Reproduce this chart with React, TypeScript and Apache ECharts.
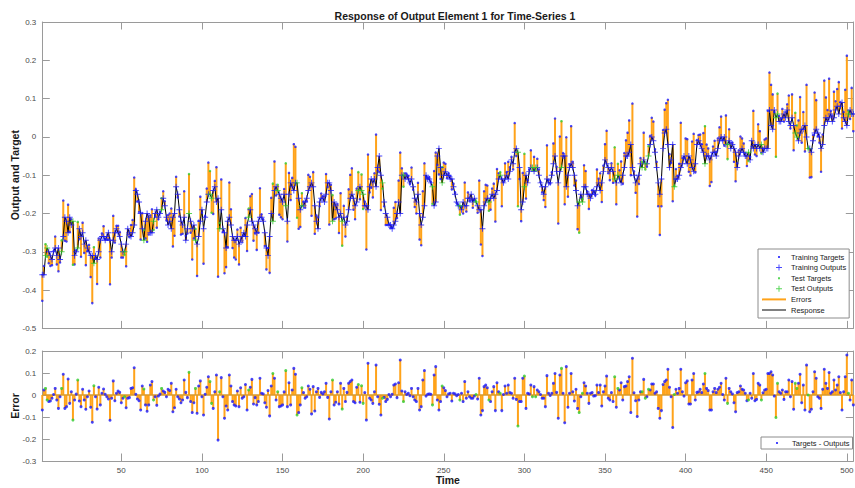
import React, { useEffect, useRef } from "react";
import * as echarts from "echarts";

const outputs: number[] = [
  -0.36,-0.36,-0.31,-0.29,-0.30,-0.31,-0.32,-0.30,-0.29,-0.31,
  -0.29,-0.32,-0.30,-0.26,-0.21,-0.22,-0.25,-0.21,-0.23,-0.22,
  -0.31,-0.30,-0.29,-0.24,-0.26,-0.25,-0.28,-0.27,-0.29,-0.30,
  -0.31,-0.31,-0.33,-0.31,-0.32,-0.30,-0.27,-0.26,-0.26,-0.27,
  -0.26,-0.25,-0.27,-0.30,-0.27,-0.25,-0.24,-0.25,-0.26,-0.28,
  -0.30,-0.30,-0.28,-0.24,-0.25,-0.26,-0.25,-0.23,-0.14,-0.15,
  -0.17,-0.20,-0.24,-0.27,-0.22,-0.20,-0.21,-0.25,-0.25,-0.22,
  -0.20,-0.19,-0.21,-0.20,-0.19,-0.16,-0.18,-0.21,-0.23,-0.22,
  -0.24,-0.21,-0.20,-0.13,-0.15,-0.19,-0.22,-0.23,-0.21,-0.27,
  -0.24,-0.20,-0.22,-0.24,-0.23,-0.27,-0.28,-0.26,-0.22,-0.19,
  -0.24,-0.21,-0.17,-0.15,-0.15,-0.16,-0.14,-0.13,-0.17,-0.16,
  -0.24,-0.19,-0.24,-0.25,-0.29,-0.22,-0.21,-0.23,-0.26,-0.27,
  -0.27,-0.26,-0.28,-0.27,-0.26,-0.25,-0.26,-0.23,-0.21,-0.19,
  -0.22,-0.23,-0.24,-0.25,-0.22,-0.21,-0.21,-0.22,-0.25,-0.29,
  -0.31,-0.26,-0.20,-0.22,-0.14,-0.13,-0.14,-0.15,-0.16,-0.17,
  -0.15,-0.18,-0.22,-0.15,-0.12,-0.13,-0.14,-0.12,-0.12,-0.16,
  -0.19,-0.18,-0.18,-0.17,-0.16,-0.14,-0.13,-0.12,-0.13,-0.18,
  -0.22,-0.24,-0.17,-0.16,-0.16,-0.17,-0.15,-0.12,-0.12,-0.14,
  -0.22,-0.17,-0.18,-0.19,-0.21,-0.20,-0.22,-0.21,-0.23,-0.22,
  -0.19,-0.16,-0.15,-0.16,-0.18,-0.17,-0.14,-0.13,-0.14,-0.15,
  -0.18,-0.18,-0.19,-0.13,-0.11,-0.12,-0.11,-0.13,-0.08,-0.05,
  -0.10,-0.12,-0.17,-0.20,-0.21,-0.23,-0.23,-0.24,-0.23,-0.22,
  -0.20,-0.17,-0.20,-0.10,-0.10,-0.11,-0.10,-0.11,-0.12,-0.11,
  -0.13,-0.16,-0.17,-0.15,-0.20,-0.23,-0.21,-0.18,-0.10,-0.11,
  -0.11,-0.12,-0.13,-0.18,-0.17,-0.05,-0.03,-0.08,-0.12,-0.10,
  -0.09,-0.10,-0.10,-0.11,-0.11,-0.13,-0.15,-0.17,-0.18,-0.18,
  -0.19,-0.17,-0.18,-0.18,-0.16,-0.16,-0.15,-0.17,-0.16,-0.17,
  -0.18,-0.19,-0.19,-0.24,-0.18,-0.17,-0.16,-0.17,-0.16,-0.15,
  -0.16,-0.15,-0.14,-0.11,-0.10,-0.11,-0.12,-0.11,-0.10,-0.11,
  -0.09,-0.06,-0.07,-0.04,-0.03,-0.04,-0.08,-0.19,-0.17,-0.13,
  -0.10,-0.12,-0.09,-0.08,-0.08,-0.09,-0.08,-0.08,-0.10,-0.12,
  -0.13,-0.15,-0.13,-0.11,-0.12,-0.12,-0.10,-0.07,-0.05,-0.09,
  -0.12,-0.09,-0.08,-0.05,-0.05,-0.13,-0.10,-0.08,-0.07,-0.08,
  -0.10,-0.14,-0.18,-0.17,-0.15,-0.17,-0.13,-0.13,-0.15,-0.15,
  -0.16,-0.15,-0.14,-0.15,-0.13,-0.12,-0.14,-0.12,-0.09,-0.06,
  -0.07,-0.08,-0.09,-0.08,-0.09,-0.11,-0.12,-0.10,-0.11,-0.12,
  -0.10,-0.08,-0.05,-0.05,-0.04,-0.02,-0.08,-0.10,-0.12,-0.11,
  -0.10,-0.07,-0.08,-0.06,-0.07,-0.07,-0.05,-0.02,0.00,-0.01,
  -0.04,-0.08,-0.12,-0.15,-0.11,-0.03,0.01,0.02,-0.02,-0.08,
  -0.06,-0.02,-0.13,-0.11,-0.11,-0.10,-0.08,-0.07,-0.05,-0.06,
  -0.07,-0.05,-0.06,-0.08,-0.09,-0.07,-0.02,-0.01,-0.02,-0.03,
  -0.04,-0.07,-0.05,-0.05,-0.06,-0.05,-0.04,-0.04,-0.05,-0.03,
  -0.01,0.00,-0.01,0.00,-0.02,-0.02,-0.01,-0.03,-0.02,-0.03,
  -0.04,-0.08,-0.05,-0.04,-0.03,-0.04,-0.05,-0.05,-0.04,-0.06,
  -0.01,-0.03,-0.02,-0.03,-0.02,-0.03,-0.02,-0.04,-0.03,-0.03,
  -0.03,0.07,0.03,0.02,0.07,0.05,0.06,0.04,0.04,0.05,
  0.06,0.05,0.07,0.04,0.03,0.05,0.03,0.01,0.00,-0.01,
  0.01,0.02,0.02,0.03,0.00,-0.03,-0.03,-0.04,-0.01,0.01,
  0.02,0.01,0.00,-0.03,-0.02,0.03,0.05,0.04,0.05,0.06,
  0.04,0.05,0.07,0.08,0.06,0.08,0.09,0.05,0.04,0.03,
  0.06,0.07,0.06,0.06,
];

// Errors (Targets - Outputs) per time step
const errors: number[] = [
  -0.068,0.023,0.030,-0.023,-0.030,-0.027,-0.015,0.002,0.030,-0.023,
  -0.061,-0.008,0.030,0.094,-0.061,-0.053,0.073,-0.038,0.015,-0.114,
  -0.023,0.004,0.068,-0.027,-0.053,0.026,-0.023,-0.065,-0.008,0.018,
  -0.056,-0.124,0.042,-0.008,-0.064,0.035,-0.045,0.008,0.027,0.003,
  -0.008,-0.018,-0.115,-0.015,0.064,-0.026,0.008,0.018,0.012,-0.035,
  -0.015,-0.008,-0.058,-0.015,-0.012,0.030,0.033,0.124,0.003,-0.018,
  -0.026,-0.068,0.041,0.027,-0.045,-0.074,-0.045,0.045,0.061,-0.023,
  -0.008,-0.047,-0.005,0.004,0.030,0.018,0.012,-0.008,0.026,0.020,
  0.053,-0.076,-0.058,0.026,-0.008,-0.018,-0.035,-0.023,0.068,0.012,
  -0.012,0.103,-0.030,-0.080,-0.035,0.030,-0.083,0.041,0.064,-0.008,
  -0.091,0.003,0.035,0.083,0.061,-0.038,-0.061,0.015,0.091,-0.205,
  0.015,0.079,-0.008,-0.106,-0.050,-0.068,0.091,0.041,-0.030,-0.045,
  -0.050,0.018,-0.053,0.033,-0.015,-0.008,0.048,-0.068,0.023,0.035,
  0.071,-0.041,-0.012,-0.045,-0.030,0.076,0.008,0.005,-0.035,-0.056,
  0.020,-0.095,0.041,0.098,0.076,-0.023,0.015,-0.053,-0.050,-0.045,
  0.014,0.111,-0.053,0.056,-0.045,0.023,0.121,0.094,-0.091,-0.080,
  -0.045,0.033,0.011,-0.015,-0.008,0.041,0.026,-0.086,0.038,-0.073,
  0.015,0.030,-0.011,0.012,0.005,0.015,0.053,-0.011,-0.109,0.015,
  0.068,-0.045,-0.033,0.015,-0.041,0.053,-0.064,0.030,-0.030,0.012,
  0.053,0.061,0.068,-0.030,-0.035,0.035,0.048,-0.033,0.042,-0.038,
  0.011,-0.114,0.144,-0.015,-0.023,-0.038,0.015,0.136,-0.008,-0.042,
  -0.091,-0.015,-0.011,-0.030,-0.020,0.002,-0.008,0.003,0.045,0.050,
  -0.012,0.056,0.159,0.018,-0.030,0.015,0.002,0.008,-0.003,0.030,
  -0.008,-0.023,-0.030,0.030,-0.068,-0.053,0.068,0.111,-0.005,0.003,
  0.005,0.003,-0.045,0.091,0.129,-0.023,-0.068,-0.030,0.041,0.033,
  0.020,-0.008,0.005,0.008,-0.027,0.008,0.005,-0.003,0.002,-0.023,
  0.008,-0.030,0.061,-0.015,0.015,-0.008,-0.015,-0.015,-0.005,0.002,
  -0.018,0.076,-0.091,-0.071,0.038,0.045,0.033,-0.023,-0.030,0.015,
  0.038,-0.071,0.056,0.015,0.008,-0.071,0.002,0.041,0.008,0.045,
  0.011,0.008,-0.015,0.076,-0.020,-0.141,-0.030,-0.030,0.076,0.086,
  -0.061,0.008,0.005,0.045,-0.008,0.038,-0.008,0.023,0.015,0.002,
  -0.015,-0.015,-0.053,0.088,0.008,-0.002,0.008,0.053,0.098,0.012,
  -0.106,0.091,0.121,0.008,-0.126,0.129,-0.056,0.008,0.098,0.015,
  -0.027,0.026,-0.061,-0.080,-0.008,0.008,0.056,0.041,0.008,-0.038,
  0.008,0.011,-0.005,-0.003,0.045,0.011,0.045,-0.050,0.015,0.041,
  0.086,-0.015,-0.023,0.011,-0.030,0.083,-0.056,0.030,0.023,0.056,
  -0.023,0.038,0.041,0.061,0.083,-0.080,0.167,0.010,-0.026,-0.098,
  -0.023,0.015,0.015,0.071,-0.015,-0.008,0.026,0.023,0.050,0.050,
  0.008,0.015,-0.061,-0.106,-0.071,0.048,0.061,0.068,0.117,0.035,
  -0.008,-0.148,0.002,0.026,0.008,0.030,0.117,0.015,-0.005,0.056,
  0.064,-0.041,-0.041,0.068,0.098,-0.023,0.012,0.015,0.026,0.011,
  0.050,0.098,0.030,0.020,-0.068,-0.068,0.015,0.030,0.011,0.026,
  0.035,0.053,0.002,-0.023,0.076,-0.038,0.030,0.015,0.005,-0.035,
  -0.076,0.011,0.015,0.041,0.026,0.023,0.008,-0.026,-0.023,0.008,
  -0.015,0.098,-0.026,-0.020,0.053,0.045,-0.023,0.010,0.023,0.026,
  0.098,0.098,0.106,0.091,-0.005,-0.102,0.053,0.015,0.008,0.023,
  -0.020,0.015,0.015,0.068,-0.008,0.061,-0.065,0.053,0.030,0.053,
  0.094,-0.035,0.045,-0.068,0.136,0.000,-0.076,-0.065,0.015,0.106,
  0.076,-0.008,-0.015,-0.061,0.026,0.117,0.053,0.030,0.102,0.008,
  0.015,0.068,0.023,0.045,0.083,0.011,-0.068,0.015,0.083,0.182,
  0.008,-0.023,0.068,-0.045,
];

// Time steps that belong to the test set (green markers)
const testSteps: number[] = [
  3,4,13,20,23,33,52,64,70,75,92,96,105,106,111,129,144,147,152,159,
  162,181,187,197,199,200,212,225,243,249,260,270,278,285,296,300,305,307,
  323,334,336,356,358,373,375,377,393,412,426,439,447,456,457,468,469,476,501,
];

const xTicks: number[] = [50, 100, 150, 200, 250, 300, 350, 400, 450, 500];
const xMin = 1;
const xMax = 504;
const topYRange: [number, number] = [-0.5, 0.3];
const bottomYRange: [number, number] = [-0.3, 0.2];

const titleText = "Response of Output Element 1 for Time-Series 1";
const topLegendNames = ["Training Targets", "Training Outputs", "Test Targets", "Test Outputs", "Errors", "Response"];
const bottomLegendName = "Targets - Outputs";

// ---- derived tables ----
const steps = outputs.map((_, i) => i + 1);
const targets = outputs.map((o, i) => Math.round((o + errors[i]) * 10000) / 10000);
const testSet = new Set(testSteps);
const trainIdx = steps.filter((t) => !testSet.has(t));
const testIdx = steps.filter((t) => testSet.has(t));

const AXIS = "#9a9a9a";
const LABEL = "#4a4a4a";
const FONT = '"Liberation Sans", Arial, Helvetica, sans-serif';
const ORANGE = "#ffa31a";
const BLUE = "#1a1aff";
const GREEN = "#2fcc2f";
const PLUS = "path://M0,4.2H10V5.8H0ZM4.2,0H5.8V10H4.2Z";

const ICON_DOT = "path://M0,0M24,8M16,3h2v2h-2z";
const ICON_PLUS = "path://M0,0M24,8M14,3.5h6v1h-6zM16.5,1h1v6h-1z";
const ICON_ORANGE = "path://M0,0M24,8M0,3h24v2h-24z";
const ICON_BLACK = "path://M0,0M24,8M0,3.5h24v1h-24z";
const ICON_DOT_B = "path://M0,0M24,8M13,3h2v2h-2z";

const fmt = (v: number) => {
  const r = Math.round(v * 10) / 10;
  return r === 0 ? "0" : String(r);
};

function xAx(grid: number, pos: "top" | "bottom", labels: boolean, name?: string) {
  return {
    type: "value",
    gridIndex: grid,
    position: pos,
    min: xMin,
    max: xMax,
    axisLine: { show: true, onZero: false, lineStyle: { color: AXIS, width: 1 } },
    axisTick: { show: true, inside: true, length: 7.5, customValues: xTicks, lineStyle: { color: AXIS, width: 1 } },
    axisLabel: labels
      ? { show: true, customValues: xTicks, color: LABEL, fontSize: 8, margin: 5, fontFamily: FONT }
      : { show: false },
    splitLine: { show: false },
    name: name,
    nameLocation: "middle",
    nameGap: 13,
    nameMoveOverlap: false,
    nameTextStyle: { fontWeight: "bold", fontSize: 10.5, color: "#1a1a1a", fontFamily: FONT },
  };
}

function yAx(grid: number, pos: "left" | "right", range: [number, number], labels: boolean, name?: string) {
  return {
    type: "value",
    gridIndex: grid,
    position: pos,
    min: range[0],
    max: range[1],
    interval: 0.1,
    axisLine: { show: true, onZero: false, lineStyle: { color: AXIS, width: 1 } },
    axisTick: { show: true, inside: true, length: 7.5, lineStyle: { color: AXIS, width: 1 } },
    axisLabel: labels
      ? { show: true, color: LABEL, fontSize: 8, margin: 6, fontFamily: FONT, formatter: fmt }
      : { show: false },
    splitLine: { show: false },
    name: name,
    nameLocation: "middle",
    nameGap: 22,
    nameMoveOverlap: false,
    nameTextStyle: { fontWeight: "bold", fontSize: 10.5, color: "#1a1a1a", fontFamily: FONT },
  };
}

export default function App() {
  const ref = useRef<HTMLDivElement>(null);

  useEffect(() => {
    if (!ref.current) return;
    const chart = echarts.init(ref.current, undefined, { renderer: "svg" });

    const option: any = {
      animation: false,
      backgroundColor: "#ffffff",
      textStyle: { fontFamily: FONT },
      title: {
        text: titleText,
        left: 450,
        top: 5,
        textAlign: "center",
        textStyle: { fontSize: 10.5, fontWeight: "bold", color: "#1a1a1a", fontFamily: FONT },
      },
      grid: [
        { left: 42.3, top: 22, width: 811, height: 306.4, containLabel: false, outerBoundsMode: "none" },
        { left: 42.3, top: 351, width: 811, height: 110, containLabel: false, outerBoundsMode: "none" },
      ],
      xAxis: [
        xAx(0, "bottom", false),
        xAx(0, "top", false),
        xAx(1, "bottom", true, "Time"),
        xAx(1, "top", false),
      ],
      yAxis: [
        yAx(0, "left", topYRange, true, "Output and Target"),
        yAx(0, "right", topYRange, false),
        yAx(1, "left", bottomYRange, true, "Error"),
        yAx(1, "right", bottomYRange, false),
      ],
      legend: [
        {
          orient: "vertical",
          left: 758,
          top: 249,
          itemWidth: 24,
          itemHeight: 8,
          itemGap: 2.6,
          padding: [4, 3, 4, 4],
          borderColor: "#8c8c8c",
          borderWidth: 1,
          backgroundColor: "#ffffff",
          selectedMode: false,
          symbolKeepAspect: true,
          itemStyle: { borderWidth: 0 },
          textStyle: { fontSize: 7.5, color: "#1a1a1a", fontFamily: FONT, lineHeight: 8 },
          data: [
            { name: topLegendNames[0], icon: ICON_DOT, itemStyle: { color: BLUE } },
            { name: topLegendNames[1], icon: ICON_PLUS, itemStyle: { color: BLUE } },
            { name: topLegendNames[2], icon: ICON_DOT, itemStyle: { color: GREEN } },
            { name: topLegendNames[3], icon: ICON_PLUS, itemStyle: { color: GREEN } },
            { name: topLegendNames[4], icon: ICON_ORANGE, itemStyle: { color: ORANGE } },
            { name: topLegendNames[5], icon: ICON_BLACK, itemStyle: { color: "#000000" } },
          ],
        },
        {
          orient: "vertical",
          left: 761,
          top: 437,
          itemWidth: 24,
          itemHeight: 8,
          padding: [2, 3, 2, 2],
          borderColor: "#8c8c8c",
          borderWidth: 1,
          backgroundColor: "#ffffff",
          selectedMode: false,
          symbolKeepAspect: true,
          itemStyle: { borderWidth: 0 },
          textStyle: { fontSize: 7.5, color: "#1a1a1a", fontFamily: FONT, lineHeight: 8 },
          data: [{ name: bottomLegendName, icon: ICON_DOT_B, itemStyle: { color: BLUE } }],
        },
      ],
      series: [
        // ---- top panel ----
        {
          name: topLegendNames[4],
          type: "custom",
          xAxisIndex: 0,
          yAxisIndex: 0,
          z: 1,
          itemStyle: { color: ORANGE },
          encode: { x: 0, y: [1, 2] },
          data: steps.map((t, i) => [t, targets[i], outputs[i]]),
          renderItem: (_p: any, api: any) => {
            const t = api.value(0);
            const a = api.coord([t, api.value(1)]);
            const b = api.coord([t, api.value(2)]);
            return {
              type: "line",
              shape: { x1: a[0], y1: a[1], x2: b[0], y2: b[1] },
              style: { stroke: ORANGE, lineWidth: 2 },
            };
          },
        },
        {
          name: topLegendNames[5],
          type: "line",
          xAxisIndex: 0,
          yAxisIndex: 0,
          z: 2,
          symbol: "none",
          color: "#000000",
          lineStyle: { color: "#000000", width: 1 },
          data: steps.map((t, i) => [t, outputs[i]]),
        },
        {
          name: topLegendNames[0],
          type: "scatter",
          xAxisIndex: 0,
          yAxisIndex: 0,
          z: 3,
          symbol: "circle",
          symbolSize: 2.5,
          itemStyle: { color: BLUE },
          data: trainIdx.map((t) => [t, targets[t - 1]]),
        },
        {
          name: topLegendNames[1],
          type: "scatter",
          xAxisIndex: 0,
          yAxisIndex: 0,
          z: 4,
          symbol: PLUS,
          symbolSize: 6,
          itemStyle: { color: BLUE },
          data: trainIdx.map((t) => [t, outputs[t - 1]]),
        },
        {
          name: topLegendNames[2],
          type: "scatter",
          xAxisIndex: 0,
          yAxisIndex: 0,
          z: 3,
          symbol: "circle",
          symbolSize: 2.5,
          itemStyle: { color: GREEN },
          data: testIdx.map((t) => [t, targets[t - 1]]),
        },
        {
          name: topLegendNames[3],
          type: "scatter",
          xAxisIndex: 0,
          yAxisIndex: 0,
          z: 4,
          symbol: PLUS,
          symbolSize: 6,
          itemStyle: { color: GREEN },
          data: testIdx.map((t) => [t, outputs[t - 1]]),
        },
        // ---- bottom panel ----
        {
          name: "Error stems",
          type: "custom",
          xAxisIndex: 2,
          yAxisIndex: 2,
          z: 1,
          itemStyle: { color: ORANGE },
          encode: { x: 0, y: 1 },
          data: steps.map((t, i) => [t, errors[i]]),
          renderItem: (_p: any, api: any) => {
            const t = api.value(0);
            const a = api.coord([t, 0]);
            const b = api.coord([t, api.value(1)]);
            return {
              type: "line",
              shape: { x1: a[0], y1: a[1], x2: b[0], y2: b[1] },
              style: { stroke: ORANGE, lineWidth: 2 },
            };
          },
        },
        {
          name: "Zero",
          type: "line",
          xAxisIndex: 2,
          yAxisIndex: 2,
          z: 2,
          symbol: "none",
          silent: true,
          lineStyle: { color: "#d99a2b", width: 1.5 },
          data: [[xMin, 0], [xMax, 0]],
        },
        {
          name: bottomLegendName,
          type: "scatter",
          xAxisIndex: 2,
          yAxisIndex: 2,
          z: 3,
          symbol: "circle",
          symbolSize: 3,
          itemStyle: { color: BLUE },
          data: trainIdx.map((t) => [t, errors[t - 1]]),
        },
        {
          name: "Test errors",
          type: "scatter",
          xAxisIndex: 2,
          yAxisIndex: 2,
          z: 3,
          symbol: "circle",
          symbolSize: 3,
          itemStyle: { color: GREEN },
          data: testIdx.map((t) => [t, errors[t - 1]]),
        },
      ],
    };

    chart.setOption(option);
    return () => chart.dispose();
  }, []);

  return (
    <div
      ref={ref}
      style={{ position: "absolute", left: 0, top: 0, width: 855, height: 488, background: "#ffffff" }}
    />
  );
}
